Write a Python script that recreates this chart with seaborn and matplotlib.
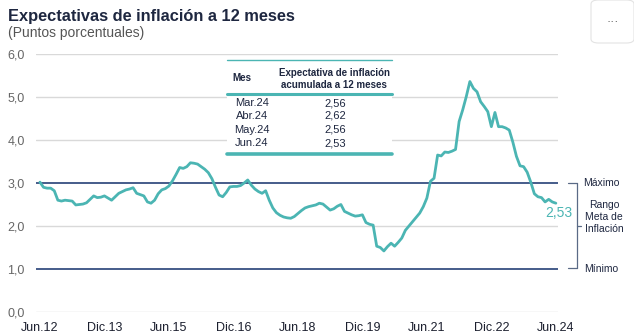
import numpy as np
import pandas as pd
import matplotlib
matplotlib.use("Agg")
import matplotlib.pyplot as plt
import seaborn as sns
from matplotlib.patches import Rectangle, FancyBboxPatch
from matplotlib.lines import Line2D

# ---------------- data ----------------
expectativa = [
    # 2012 Jun-Dec
    3.02, 2.90, 2.88, 2.88, 2.82, 2.60, 2.58,
    # 2013
    2.60, 2.59, 2.58, 2.49, 2.50, 2.51, 2.54, 2.62, 2.70, 2.66, 2.67, 2.70,
    # 2014
    2.65, 2.60, 2.68, 2.76, 2.80, 2.84, 2.86, 2.89, 2.76, 2.73, 2.70, 2.56,
    # 2015
    2.53, 2.60, 2.75, 2.84, 2.87, 2.93, 3.05, 3.20, 3.36, 3.34, 3.38, 3.47,
    # 2016
    3.46, 3.44, 3.38, 3.32, 3.24, 3.10, 2.90, 2.72, 2.68, 2.78, 2.91, 2.92,
    # 2017
    2.92, 2.94, 3.00, 3.07, 2.95, 2.86, 2.80, 2.76, 2.82, 2.60, 2.42, 2.31,
    # 2018
    2.25, 2.21, 2.19, 2.18, 2.22, 2.29, 2.36, 2.42, 2.45, 2.47, 2.49, 2.53,
    # 2019
    2.51, 2.44, 2.37, 2.40, 2.46, 2.50, 2.34, 2.30, 2.26, 2.23, 2.24, 2.26,
    # 2020
    2.08, 2.04, 2.02, 1.53, 1.50, 1.42, 1.52, 1.60, 1.53, 1.62, 1.72, 1.90,
    # 2021
    2.00, 2.10, 2.20, 2.30, 2.45, 2.65, 3.04, 3.11, 3.65, 3.63, 3.72, 3.71,
    # 2022
    3.74, 3.78, 4.43, 4.70, 5.01, 5.36, 5.20, 5.12, 4.89, 4.78, 4.66, 4.31,
    # 2023
    4.64, 4.31, 4.31, 4.28, 4.23, 3.95, 3.62, 3.40, 3.38, 3.25, 3.02, 2.75,
    # 2024 Jan-Jun
    2.68, 2.66, 2.56, 2.62, 2.56, 2.53,
]
meses = list(range(len(expectativa)))  # 0 = Jun.12

tick_pos = [0, 18, 36, 54, 72, 90, 108, 126, 144]
tick_labels = ["Jun.12", "Dic.13", "Jun.15", "Dic.16", "Jun.18",
               "Dic.19", "Jun.21", "Dic.22", "Jun.24"]
y_ticks = [0, 1, 2, 3, 4, 5, 6]
y_labels = ["0,0", "1,0", "2,0", "3,0", "4,0", "5,0", "6,0"]

rango_max = 3.0
rango_min = 1.0

tabla_mes = ["Mar.24", "Abr.24", "May.24", "Jun.24"]
tabla_val = ["2,56", "2,62", "2,56", "2,53"]
ultimo_label = "2,53"

df = pd.DataFrame({"mes": meses, "valor": expectativa})

# ---------------- style ----------------
sns.set_theme(style="white")
plt.rcParams["font.family"] = ["Liberation Sans", "DejaVu Sans"]

W, H = 634, 336
fig = plt.figure(figsize=(W / 100, H / 100), dpi=100)
fig.patch.set_facecolor("white")

def fx(px):
    return px / W

def fy(py):
    return 1 - py / H

ax_left, ax_right, ax_top, ax_bot = 36, 558, 54, 312
ax = fig.add_axes([fx(ax_left), fy(ax_bot), fx(ax_right - ax_left), (ax_bot - ax_top) / H])

teal = "#4bb5b3"
navy = "#13306b"
grid_c = "#d9d9d9"

# gridlines
for yv in [0, 2, 4, 5, 6]:
    ax.axhline(yv, color=grid_c, lw=1.0, zorder=1)
ax.axhline(rango_max, color=navy, lw=1.1, zorder=2)
ax.axhline(rango_min, color=navy, lw=1.1, zorder=2)

sns.lineplot(data=df, x="mes", y="valor", ax=ax, color=teal, lw=2.0, zorder=3)

ax.set_xlim(-1.1, 144.6)
ax.set_ylim(0, 6)
ax.set_xticks(tick_pos)
ax.set_xticklabels(tick_labels, fontsize=9, color="#1b1f2e")
ax.set_yticks(y_ticks)
ax.set_yticklabels(y_labels, fontsize=9, color="#666666")
ax.tick_params(axis="both", length=0)
ax.tick_params(axis="x", pad=7)
ax.tick_params(axis="y", pad=8)
ax.set_xlabel("")
ax.set_ylabel("")
for s in ax.spines.values():
    s.set_visible(False)

# last value label
ax.annotate(ultimo_label, xy=(meses[-1], expectativa[-1]), xytext=(-7.5, -7),
            textcoords="offset points", color=teal, fontsize=10, ha="left", va="center")

# ---------------- titles ----------------
fig.text(fx(8), fy(17), "Expectativas de inflación a 12 meses", fontsize=11.8,
         fontweight="bold", color="#1e2740", ha="left", va="center")
fig.text(fx(8), fy(33), "(Puntos porcentuales)", fontsize=10, color="#555555",
         ha="left", va="center")

# ---------------- table ----------------
tl, tr, tt, tb = 227, 392, 60, 155
fig.patches.append(Rectangle((fx(tl), fy(tb)), fx(tr - tl), (tb - tt) / H,
                             transform=fig.transFigure, facecolor="white",
                             edgecolor="none", zorder=5))
fig.lines.append(Line2D([fx(tl), fx(tr)], [fy(60), fy(60)], transform=fig.transFigure,
                        color=teal, lw=1.0, zorder=6))
fig.lines.append(Line2D([fx(tl), fx(tr)], [fy(94), fy(94)], transform=fig.transFigure,
                        color=teal, lw=2.2, zorder=6))
fig.lines.append(Line2D([fx(tl), fx(tr)], [fy(154), fy(154)], transform=fig.transFigure,
                        color=teal, lw=2.6, zorder=6))
fig.text(fx(232), fy(78), "Mes", fontsize=7, fontweight="bold", color="#1e2740",
         ha="left", va="center", zorder=7)
fig.text(fx(334), fy(79), "Expectativa de inflación\nacumulada a 12 meses", fontsize=7,
         fontweight="bold", color="#1e2740", ha="center", va="center",
         linespacing=1.25, zorder=7)
row_y = [103, 116, 130, 143]
for m, v, yy in zip(tabla_mes, tabla_val, row_y):
    fig.text(fx(252), fy(yy), m, fontsize=8, color="#1e2740", ha="center", va="center", zorder=7)
    fig.text(fx(335), fy(yy), v, fontsize=8, color="#1e2740", ha="center", va="center", zorder=7)

# ---------------- range annotation ----------------
br_c = "#5a6a86"
ymax_px, ymin_px, ymid_px = 183, 268, 226
bx = 577
for seg in [([568, bx], [ymax_px, ymax_px]), ([568, bx], [ymin_px, ymin_px]),
            ([bx, bx], [ymax_px, ymin_px]), ([bx, 581], [ymid_px, ymid_px])]:
    fig.lines.append(Line2D([fx(p) for p in seg[0]], [fy(p) for p in seg[1]],
                            transform=fig.transFigure, color=br_c, lw=0.9))
fig.text(fx(601), fy(183), "Máximo", fontsize=7.5, color="#1e2740", ha="center", va="center")
fig.text(fx(604), fy(217), "Rango\nMeta de\nInflación", fontsize=7.5, color="#1e2740",
         ha="center", va="center", linespacing=1.2)
fig.text(fx(601), fy(269), "Mínimo", fontsize=7.5, color="#1e2740", ha="center", va="center")

# ---------------- menu button ----------------
fig.patches.append(FancyBboxPatch((fx(591), fy(43)), fx(43), 43 / H,
                                  boxstyle="round,pad=0,rounding_size=0.012",
                                  transform=fig.transFigure, facecolor="white",
                                  edgecolor="#e3e3e3", lw=0.8, zorder=4))
fig.text(fx(613), fy(22), "···", fontsize=9, color="#555555", ha="center", va="center", zorder=5)

fig.savefig("out.png", dpi=100, facecolor="white")
